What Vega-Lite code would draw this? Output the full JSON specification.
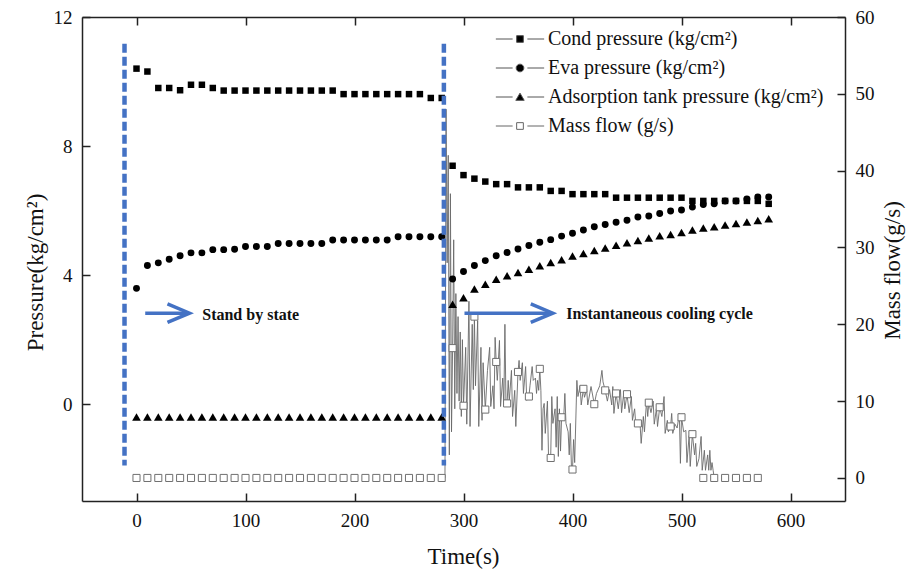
{
  "$schema": "https://vega.github.io/schema/vega-lite/v6.json",
  "width": 763,
  "height": 484,
  "autosize": {"type": "none"},
  "padding": {"left": 82, "top": 17, "right": 63, "bottom": 70},
  "background": "white",
  "datasets": {
    "cond": [
      {"t":0,"p":10.40},{"t":10,"p":10.31},{"t":20,"p":9.80},{"t":30,"p":9.80},{"t":40,"p":9.73},{"t":50,"p":9.90},{"t":60,"p":9.90},{"t":70,"p":9.80},{"t":80,"p":9.72},{"t":90,"p":9.72},{"t":100,"p":9.72},{"t":110,"p":9.72},{"t":120,"p":9.72},{"t":130,"p":9.72},{"t":140,"p":9.72},{"t":150,"p":9.72},{"t":160,"p":9.72},{"t":170,"p":9.72},{"t":180,"p":9.72},{"t":190,"p":9.61},{"t":200,"p":9.61},{"t":210,"p":9.61},{"t":220,"p":9.61},{"t":230,"p":9.61},{"t":240,"p":9.61},{"t":250,"p":9.61},{"t":260,"p":9.61},{"t":270,"p":9.49},{"t":280,"p":9.49},
      {"t":290,"p":7.39},{"t":300,"p":7.10},{"t":310,"p":6.99},{"t":320,"p":6.90},{"t":330,"p":6.82},{"t":340,"p":6.82},{"t":350,"p":6.72},{"t":360,"p":6.72},{"t":370,"p":6.72},{"t":380,"p":6.61},{"t":390,"p":6.61},{"t":400,"p":6.51},{"t":410,"p":6.51},{"t":420,"p":6.51},{"t":430,"p":6.51},{"t":440,"p":6.40},{"t":450,"p":6.40},{"t":460,"p":6.40},{"t":470,"p":6.40},{"t":480,"p":6.40},{"t":490,"p":6.40},{"t":500,"p":6.40},{"t":510,"p":6.30},{"t":520,"p":6.30},{"t":530,"p":6.30},{"t":540,"p":6.30},{"t":550,"p":6.30},{"t":560,"p":6.30},{"t":570,"p":6.30},{"t":580,"p":6.21}
    ],
    "eva": [
      {"t":0,"p":3.59},{"t":10,"p":4.30},{"t":20,"p":4.38},{"t":30,"p":4.49},{"t":40,"p":4.60},{"t":50,"p":4.69},{"t":60,"p":4.69},{"t":70,"p":4.79},{"t":80,"p":4.79},{"t":90,"p":4.80},{"t":100,"p":4.89},{"t":110,"p":4.89},{"t":120,"p":4.89},{"t":130,"p":4.98},{"t":140,"p":4.98},{"t":150,"p":4.98},{"t":160,"p":4.98},{"t":170,"p":4.98},{"t":180,"p":5.09},{"t":190,"p":5.09},{"t":200,"p":5.09},{"t":210,"p":5.09},{"t":220,"p":5.09},{"t":230,"p":5.09},{"t":240,"p":5.19},{"t":250,"p":5.19},{"t":260,"p":5.19},{"t":270,"p":5.19},{"t":280,"p":5.19},
      {"t":290,"p":3.88},{"t":300,"p":4.11},{"t":310,"p":4.30},{"t":320,"p":4.45},{"t":330,"p":4.60},{"t":340,"p":4.70},{"t":350,"p":4.81},{"t":360,"p":4.92},{"t":370,"p":5.02},{"t":380,"p":5.10},{"t":390,"p":5.21},{"t":400,"p":5.30},{"t":410,"p":5.40},{"t":420,"p":5.50},{"t":430,"p":5.57},{"t":440,"p":5.64},{"t":450,"p":5.70},{"t":460,"p":5.80},{"t":470,"p":5.83},{"t":480,"p":5.91},{"t":490,"p":5.99},{"t":500,"p":6.02},{"t":510,"p":6.11},{"t":520,"p":6.19},{"t":530,"p":6.21},{"t":540,"p":6.30},{"t":550,"p":6.30},{"t":560,"p":6.36},{"t":570,"p":6.42},{"t":580,"p":6.42}
    ],
    "ads": [
      {"t":0,"p":-0.40},{"t":10,"p":-0.40},{"t":20,"p":-0.40},{"t":30,"p":-0.40},{"t":40,"p":-0.40},{"t":50,"p":-0.40},{"t":60,"p":-0.40},{"t":70,"p":-0.40},{"t":80,"p":-0.40},{"t":90,"p":-0.40},{"t":100,"p":-0.40},{"t":110,"p":-0.40},{"t":120,"p":-0.40},{"t":130,"p":-0.40},{"t":140,"p":-0.40},{"t":150,"p":-0.40},{"t":160,"p":-0.40},{"t":170,"p":-0.40},{"t":180,"p":-0.40},{"t":190,"p":-0.40},{"t":200,"p":-0.40},{"t":210,"p":-0.40},{"t":220,"p":-0.40},{"t":230,"p":-0.40},{"t":240,"p":-0.40},{"t":250,"p":-0.40},{"t":260,"p":-0.40},{"t":270,"p":-0.40},{"t":280,"p":-0.40},
      {"t":290,"p":3.10},{"t":300,"p":3.30},{"t":310,"p":3.57},{"t":320,"p":3.72},{"t":330,"p":3.87},{"t":340,"p":3.98},{"t":350,"p":4.08},{"t":360,"p":4.18},{"t":370,"p":4.29},{"t":380,"p":4.39},{"t":390,"p":4.48},{"t":400,"p":4.59},{"t":410,"p":4.67},{"t":420,"p":4.76},{"t":430,"p":4.84},{"t":440,"p":4.93},{"t":450,"p":5.00},{"t":460,"p":5.07},{"t":470,"p":5.15},{"t":480,"p":5.22},{"t":490,"p":5.26},{"t":500,"p":5.32},{"t":510,"p":5.40},{"t":520,"p":5.46},{"t":530,"p":5.50},{"t":540,"p":5.55},{"t":550,"p":5.60},{"t":560,"p":5.65},{"t":570,"p":5.69},{"t":580,"p":5.75}
    ],
    "mfm": [
      {"t":0,"m":0},{"t":10,"m":0},{"t":20,"m":0},{"t":30,"m":0},{"t":40,"m":0},{"t":50,"m":0},{"t":60,"m":0},{"t":70,"m":0},{"t":80,"m":0},{"t":90,"m":0},{"t":100,"m":0},{"t":110,"m":0},{"t":120,"m":0},{"t":130,"m":0},{"t":140,"m":0},{"t":150,"m":0},{"t":160,"m":0},{"t":170,"m":0},{"t":180,"m":0},{"t":190,"m":0},{"t":200,"m":0},{"t":210,"m":0},{"t":220,"m":0},{"t":230,"m":0},{"t":240,"m":0},{"t":250,"m":0},{"t":260,"m":0},{"t":270,"m":0},{"t":280,"m":0},
      {"t":290,"m":16.9},{"t":300,"m":9.4},{"t":310,"m":21.0},{"t":320,"m":8.9},{"t":330,"m":15.1},{"t":340,"m":9.7},{"t":350,"m":13.8},{"t":360,"m":10.6},{"t":370,"m":14.2},{"t":380,"m":2.6},{"t":390,"m":7.9},{"t":400,"m":1.1},{"t":410,"m":11.6},{"t":420,"m":9.6},{"t":430,"m":11.4},{"t":440,"m":11.0},{"t":450,"m":10.9},{"t":460,"m":7.1},{"t":470,"m":9.8},{"t":480,"m":9.2},{"t":490,"m":6.7},{"t":500,"m":7.9},{"t":510,"m":5.7},{"t":520,"m":0},{"t":530,"m":0},{"t":540,"m":0},{"t":550,"m":0},{"t":560,"m":0},{"t":570,"m":0}
    ],
    "mft": [
      {"t":280,"m":0},{"t":283,"m":0},{"t":284,"m":48},{"t":285,"m":28},{"t":286,"m":42},{"t":287,"m":3},{"t":288,"m":37},{"t":289,"m":6},{"t":290,"m":16.9},{"t":291,"m":31},{"t":292,"m":9},{"t":293,"m":24},{"t":294,"m":11},{"t":295,"m":21},{"t":296,"m":10},{"t":297,"m":19},{"t":298,"m":8},{"t":299,"m":18},{"t":300,"m":9.4},
      {"t":302,"m":17},{"t":303,"m":7},{"t":305,"m":23},{"t":306,"m":6.7},{"t":308,"m":20},{"t":309,"m":11.5},{"t":310,"m":21},{"t":311,"m":12},{"t":313,"m":20.5},{"t":314,"m":6.7},{"t":316,"m":17},{"t":317,"m":7.5},{"t":318,"m":15},{"t":320,"m":8.9},
      {"t":322,"m":14},{"t":324,"m":17},{"t":325,"m":9.3},{"t":327,"m":12},{"t":328,"m":9},{"t":329,"m":18.3},{"t":330,"m":15.1},{"t":331,"m":12.7},{"t":333,"m":17.9},{"t":334,"m":9.3},{"t":336,"m":13},{"t":337,"m":9.5},{"t":338,"m":20},{"t":339,"m":9.3},{"t":340,"m":9.7},
      {"t":341,"m":12.7},{"t":342,"m":10},{"t":344,"m":14},{"t":345,"m":8},{"t":347,"m":11.4},{"t":348,"m":6.7},{"t":350,"m":13.8},{"t":351,"m":15.3},{"t":352,"m":12.7},{"t":354,"m":15},{"t":355,"m":11},{"t":357,"m":14.5},{"t":358,"m":10.1},{"t":360,"m":10.6},
      {"t":361,"m":12},{"t":363,"m":14.5},{"t":364,"m":12.7},{"t":366,"m":13},{"t":367,"m":11},{"t":368,"m":12.7},{"t":369,"m":11.4},{"t":370,"m":14.2},{"t":371,"m":11.4},{"t":372,"m":3.6},{"t":373,"m":9},{"t":374,"m":9.7},{"t":375,"m":5.8},{"t":377,"m":10},{"t":378,"m":2.8},{"t":380,"m":2.6},
      {"t":381,"m":10.6},{"t":382,"m":7.1},{"t":384,"m":9},{"t":385,"m":4},{"t":386,"m":10.6},{"t":387,"m":2.8},{"t":388,"m":9},{"t":389,"m":3.5},{"t":390,"m":7.9},{"t":392,"m":8},{"t":393,"m":11},{"t":394,"m":7.1},{"t":396,"m":6},{"t":397,"m":3},{"t":398,"m":7.1},{"t":399,"m":1.5},{"t":400,"m":1.1},
      {"t":401,"m":5},{"t":402,"m":2},{"t":404,"m":12.7},{"t":405,"m":10.6},{"t":407,"m":12},{"t":408,"m":9.5},{"t":410,"m":11.6},{"t":411,"m":10.5},{"t":413,"m":11.5},{"t":414,"m":9.5},{"t":417,"m":11.9},{"t":420,"m":9.6},
      {"t":422,"m":11},{"t":425,"m":12},{"t":427,"m":14},{"t":428,"m":12.5},{"t":430,"m":11.4},{"t":432,"m":10},{"t":434,"m":11.5},{"t":436,"m":9.5},{"t":437,"m":11.9},{"t":438,"m":8.4},{"t":440,"m":11},
      {"t":442,"m":9},{"t":444,"m":11.5},{"t":445,"m":8.5},{"t":447,"m":11},{"t":448,"m":9},{"t":450,"m":10.9},{"t":452,"m":8.5},{"t":454,"m":10.6},{"t":455,"m":7.5},{"t":457,"m":9},{"t":458,"m":7.1},{"t":460,"m":7.1},
      {"t":462,"m":7},{"t":463,"m":4.5},{"t":465,"m":8},{"t":466,"m":6},{"t":468,"m":10.1},{"t":469,"m":8},{"t":470,"m":9.8},{"t":472,"m":8.5},{"t":474,"m":10},{"t":475,"m":7},{"t":477,"m":9},{"t":478,"m":6.7},{"t":480,"m":9.2},
      {"t":482,"m":8},{"t":484,"m":10.6},{"t":485,"m":5.8},{"t":487,"m":7.5},{"t":488,"m":6},{"t":490,"m":6.7},{"t":491,"m":8.4},{"t":492,"m":5.8},{"t":494,"m":7},{"t":496,"m":6.5},{"t":498,"m":8.4},{"t":499,"m":1.9},{"t":500,"m":7.9},
      {"t":502,"m":6},{"t":504,"m":6.2},{"t":505,"m":2},{"t":507,"m":5.5},{"t":508,"m":1.5},{"t":510,"m":5.7},{"t":512,"m":3},{"t":513,"m":4.5},{"t":514,"m":1.5},{"t":516,"m":2.5},{"t":518,"m":5.4},{"t":519,"m":1},
      {"t":521,"m":3.6},{"t":522,"m":1},{"t":524,"m":3},{"t":525,"m":1},{"t":526,"m":3.6},{"t":527,"m":1},{"t":528,"m":2},{"t":529,"m":1},{"t":530,"m":0}
    ],
    "phase": [{"t":-11,"p1":11.17,"p2":-1.9},{"t":282,"p1":11.17,"p2":-1.9}],
    "arrows": [{"t":8,"t1":47.5,"tip":48.6,"p":2.82},{"t":300.9,"t1":380.8,"tip":381.9,"p":2.82}],
    "notes": [{"t":60.3,"p":2.76,"label":"Stand by state"},{"t":394.2,"p":2.78,"label":"Instantaneous cooling cycle"}],
    "legend": [{"series":"Cond pressure (kg/cm²)"},{"series":"Eva pressure (kg/cm²)"},{"series":"Adsorption tank pressure (kg/cm²)"},{"series":"Mass flow (g/s)"}]
  },
  "layer": [
    {
      "layer": [
        {
          "data": {"name": "mft"},
          "mark": {"type": "line", "stroke": "#6a6a6a", "strokeWidth": 0.9, "interpolate": "linear"},
          "encoding": {
            "x": {"field": "t", "type": "quantitative", "scale": {"domain": [-50, 650], "nice": false, "zero": false}, "axis": {"orient": "top", "values": [0,100,200,300,400,500,600], "labels": false, "title": null}},
            "y": {"field": "m", "type": "quantitative", "scale": {"domain": [-3, 60], "nice": false, "zero": false}, "axis": {"orient": "right", "values": [0,10,20,30,40,50,60], "title": "Mass flow(g/s)", "titleAngle": 270, "titleX": 54, "titleY": 253, "titleBaseline": "alphabetic", "titleAlign": "center"}}
          }
        },
        {
          "data": {"name": "mfm"},
          "mark": {"type": "point", "shape": "square", "filled": true, "fill": "white", "stroke": "#707070", "strokeWidth": 1, "size": 50, "opacity": 1},
          "encoding": {
            "x": {"field": "t", "type": "quantitative", "scale": {"domain": [-50, 650], "nice": false, "zero": false}, "axis": {"orient": "top", "values": [0,100,200,300,400,500,600], "labels": false, "title": null}},
            "y": {"field": "m", "type": "quantitative", "scale": {"domain": [-3, 60], "nice": false, "zero": false}, "axis": {"orient": "right", "values": [0,10,20,30,40,50,60], "title": "Mass flow(g/s)", "titleAngle": 270, "titleX": 54, "titleY": 253, "titleBaseline": "alphabetic", "titleAlign": "center"}}
          }
        }
      ]
    },
    {
      "layer": [
        {
          "data": {"name": "cond"},
          "mark": {"type": "point", "shape": "square", "filled": true, "color": "#000000", "size": 42, "opacity": 1},
          "encoding": {
            "x": {"field": "t", "type": "quantitative", "scale": {"domain": [-50, 650], "nice": false, "zero": false}, "axis": {"orient": "bottom", "values": [0,100,200,300,400,500,600], "title": "Time(s)", "titleX": 381, "titleY": 62, "titleBaseline": "alphabetic", "titleAlign": "center", "titleAngle": 0}},
            "y": {"field": "p", "type": "quantitative", "scale": {"domain": [-3, 12], "nice": false, "zero": false}, "axis": {"orient": "left", "values": [0,4,8,12], "title": "Pressure(kg/cm²)", "titleAngle": 270, "titleX": -40, "titleY": 255, "titleBaseline": "alphabetic", "titleAlign": "center"}}
          }
        },
        {
          "data": {"name": "eva"},
          "mark": {"type": "point", "shape": "circle", "filled": true, "color": "#000000", "size": 48, "opacity": 1},
          "encoding": {
            "x": {"field": "t", "type": "quantitative", "scale": {"domain": [-50, 650], "nice": false, "zero": false}, "axis": {"orient": "bottom", "values": [0,100,200,300,400,500,600], "title": "Time(s)", "titleX": 381, "titleY": 62, "titleBaseline": "alphabetic", "titleAlign": "center", "titleAngle": 0}},
            "y": {"field": "p", "type": "quantitative", "scale": {"domain": [-3, 12], "nice": false, "zero": false}, "axis": {"orient": "left", "values": [0,4,8,12], "title": "Pressure(kg/cm²)", "titleAngle": 270, "titleX": -40, "titleY": 255, "titleBaseline": "alphabetic", "titleAlign": "center"}}
          }
        },
        {
          "data": {"name": "ads"},
          "mark": {"type": "point", "shape": "triangle-up", "filled": true, "color": "#000000", "size": 75, "opacity": 1},
          "encoding": {
            "x": {"field": "t", "type": "quantitative", "scale": {"domain": [-50, 650], "nice": false, "zero": false}, "axis": {"orient": "bottom", "values": [0,100,200,300,400,500,600], "title": "Time(s)", "titleX": 381, "titleY": 62, "titleBaseline": "alphabetic", "titleAlign": "center", "titleAngle": 0}},
            "y": {"field": "p", "type": "quantitative", "scale": {"domain": [-3, 12], "nice": false, "zero": false}, "axis": {"orient": "left", "values": [0,4,8,12], "title": "Pressure(kg/cm²)", "titleAngle": 270, "titleX": -40, "titleY": 255, "titleBaseline": "alphabetic", "titleAlign": "center"}}
          }
        },
        {
          "data": {"name": "phase"},
          "mark": {"type": "rule", "stroke": "#4472C4", "strokeWidth": 4.5, "strokeDash": [9, 4]},
          "encoding": {
            "x": {"field": "t", "type": "quantitative", "scale": {"domain": [-50, 650], "nice": false, "zero": false}, "axis": {"orient": "bottom", "values": [0,100,200,300,400,500,600], "title": "Time(s)", "titleX": 381, "titleY": 62, "titleBaseline": "alphabetic", "titleAlign": "center", "titleAngle": 0}},
            "y": {"field": "p1", "type": "quantitative", "scale": {"domain": [-3, 12], "nice": false, "zero": false}, "axis": {"orient": "left", "values": [0,4,8,12], "title": "Pressure(kg/cm²)", "titleAngle": 270, "titleX": -40, "titleY": 255, "titleBaseline": "alphabetic", "titleAlign": "center"}},
            "y2": {"field": "p2"}
          }
        },
        {
          "data": {"name": "arrows"},
          "mark": {"type": "rule", "stroke": "#4472C4", "strokeWidth": 3.5},
          "encoding": {
            "x": {"field": "t", "type": "quantitative", "scale": {"domain": [-50, 650], "nice": false, "zero": false}, "axis": {"orient": "bottom", "values": [0,100,200,300,400,500,600], "title": "Time(s)", "titleX": 381, "titleY": 62, "titleBaseline": "alphabetic", "titleAlign": "center", "titleAngle": 0}},
            "x2": {"field": "t1"},
            "y": {"field": "p", "type": "quantitative", "scale": {"domain": [-3, 12], "nice": false, "zero": false}, "axis": {"orient": "left", "values": [0,4,8,12], "title": "Pressure(kg/cm²)", "titleAngle": 270, "titleX": -40, "titleY": 255, "titleBaseline": "alphabetic", "titleAlign": "center"}}
          }
        },
        {
          "data": {"name": "arrows"},
          "mark": {"type": "point", "shape": "M-1,-0.42L0,0L-1,0.42", "filled": false, "stroke": "#4472C4", "strokeWidth": 3.5, "size": 1936, "opacity": 1, "strokeJoin": "miter"},
          "encoding": {
            "x": {"field": "tip", "type": "quantitative", "scale": {"domain": [-50, 650], "nice": false, "zero": false}, "axis": {"orient": "bottom", "values": [0,100,200,300,400,500,600], "title": "Time(s)", "titleX": 381, "titleY": 62, "titleBaseline": "alphabetic", "titleAlign": "center", "titleAngle": 0}},
            "y": {"field": "p", "type": "quantitative", "scale": {"domain": [-3, 12], "nice": false, "zero": false}, "axis": {"orient": "left", "values": [0,4,8,12], "title": "Pressure(kg/cm²)", "titleAngle": 270, "titleX": -40, "titleY": 255, "titleBaseline": "alphabetic", "titleAlign": "center"}}
          }
        },
        {
          "data": {"name": "notes"},
          "mark": {"type": "text", "align": "left", "baseline": "middle", "font": "Liberation Serif", "fontWeight": "bold", "fontSize": 16, "color": "#111111"},
          "encoding": {
            "x": {"field": "t", "type": "quantitative", "scale": {"domain": [-50, 650], "nice": false, "zero": false}, "axis": {"orient": "bottom", "values": [0,100,200,300,400,500,600], "title": "Time(s)", "titleX": 381, "titleY": 62, "titleBaseline": "alphabetic", "titleAlign": "center", "titleAngle": 0}},
            "y": {"field": "p", "type": "quantitative", "scale": {"domain": [-3, 12], "nice": false, "zero": false}, "axis": {"orient": "left", "values": [0,4,8,12], "title": "Pressure(kg/cm²)", "titleAngle": 270, "titleX": -40, "titleY": 255, "titleBaseline": "alphabetic", "titleAlign": "center"}},
            "text": {"field": "label"}
          }
        }
      ]
    },
    {
      "data": {"name": "legend"},
      "mark": {"type": "point", "filled": true, "opacity": 0},
      "encoding": {
        "shape": {"field": "series", "type": "nominal",
          "scale": {"domain": ["Cond pressure (kg/cm²)","Eva pressure (kg/cm²)","Adsorption tank pressure (kg/cm²)","Mass flow (g/s)"],
                    "range": ["M-7.2,0H-2.2M2.2,0H7.2M-1,-1H1V1H-1Z","M-7.2,0H-2.2M2.2,0H7.2M-1.15,0A1.15,1.15,0,1,1,1.15,0A1.15,1.15,0,1,1,-1.15,0Z","M-7.2,0H-2.2M2.2,0H7.2M0,-1.15L1.25,1H-1.25Z","M-7.2,0H-2.2M2.2,0H7.2M-1,-1H1V1H-1Z"]},
          "legend": {"orient": "none", "legendX": 428, "legendY": 12, "title": null, "labelFont": "Liberation Serif", "labelFontSize": 20, "labelColor": "#111111", "labelOffset": 18, "symbolSize": 45, "symbolStrokeWidth": 1, "symbolOpacity": 1, "rowPadding": 9, "padding": 0, "labelLimit": 0}},
        "fill": {"field": "series", "type": "nominal",
          "scale": {"domain": ["Cond pressure (kg/cm²)","Eva pressure (kg/cm²)","Adsorption tank pressure (kg/cm²)","Mass flow (g/s)"],
                    "range": ["#000000","#000000","#000000","#ffffff"]},
          "legend": {"orient": "none", "legendX": 428, "legendY": 12, "title": null, "labelFont": "Liberation Serif", "labelFontSize": 20, "labelColor": "#111111", "labelOffset": 18, "symbolSize": 45, "symbolStrokeWidth": 1, "symbolOpacity": 1, "rowPadding": 9, "padding": 0, "labelLimit": 0}},
        "stroke": {"field": "series", "type": "nominal",
          "scale": {"domain": ["Cond pressure (kg/cm²)","Eva pressure (kg/cm²)","Adsorption tank pressure (kg/cm²)","Mass flow (g/s)"],
                    "range": ["#555555","#555555","#555555","#666666"]},
          "legend": {"orient": "none", "legendX": 428, "legendY": 12, "title": null, "labelFont": "Liberation Serif", "labelFontSize": 20, "labelColor": "#111111", "labelOffset": 18, "symbolSize": 45, "symbolStrokeWidth": 1, "symbolOpacity": 1, "rowPadding": 9, "padding": 0, "labelLimit": 0}}
      }
    }
  ],
  "resolve": {"scale": {"y": "independent"}, "axis": {"x": "independent"}},
  "config": {
    "view": {"stroke": null},
    "font": "Liberation Serif",
    "text": {"font": "Liberation Serif"},
    "legend": {"labelFont": "Liberation Serif"},
    "axis": {
      "grid": false,
      "domainColor": "#222222",
      "domainWidth": 1.5,
      "tickColor": "#222222",
      "tickWidth": 1.5,
      "tickSize": -8,
      "labelPadding": 18,
      "labelFont": "Liberation Serif",
      "labelFontSize": 19,
      "labelColor": "#111111",
      "titleFont": "Liberation Serif",
      "titleFontSize": 23,
      "titleFontWeight": "normal",
      "titleColor": "#111111"
    }
  }
}
